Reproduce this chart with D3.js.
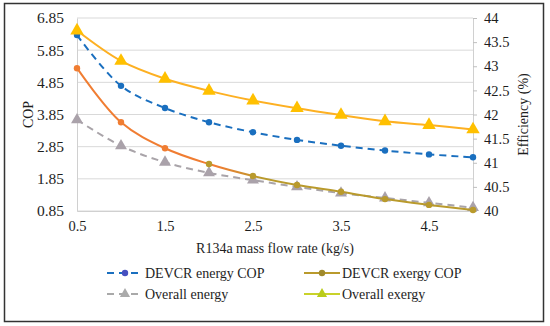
<!DOCTYPE html>
<html>
<head>
<meta charset="utf-8">
<script src="https://cdn.jsdelivr.net/npm/d3@7"></script>
<style>
  body { margin: 0; background: #fff; }
  svg text { font-family: "Liberation Serif", "Times New Roman", serif; fill: #1e1e1e; }
</style>
</head>
<body>
<div id="app"></div>
<script>
// mass flow rate (kg/s)
const flow = [0.5, 1, 1.5, 2, 2.5, 3, 3.5, 4, 4.5, 5]
// left axis: COP
const energyCop = [6.32, 4.74, 4.05, 3.61, 3.30, 3.06, 2.88, 2.73, 2.61, 2.52]
const exergyCop = [5.29, 3.61, 2.80, 2.31, 1.94, 1.66, 1.45, 1.22, 1.04, 0.88]
// right axis: efficiency (%)
const overallEnergy = [41.89, 41.35, 41.01, 40.79, 40.64, 40.50, 40.37, 40.27, 40.17, 40.07]
const overallExergy = [43.74, 43.11, 42.74, 42.49, 42.29, 42.13, 41.99, 41.86, 41.78, 41.69]

const xTicks = [0.5, 1.5, 2.5, 3.5, 4.5]
const copTicks = [0.85, 1.85, 2.85, 3.85, 4.85, 5.85, 6.85]
const effTicks = [40, 40.5, 41, 41.5, 42, 42.5, 43, 43.5, 44]

const W = 550, H = 326
const plotL = 77, plotR = 473, plotT = 18, plotB = 211

const svg = d3.select('#app').append('svg')
    .attr('width', W)
    .attr('height', H)

// outer frame
svg.append('rect')
    .attr('x', 4.5).attr('y', 3.5)
    .attr('width', 539).attr('height', 318)
    .attr('fill', '#fff')
    .attr('stroke', '#333')
    .attr('stroke-width', 1.5)

const x = d3.scaleLinear().domain([0.5, 5]).range([plotL, plotR])
const yL = d3.scaleLinear().domain([0.85, 6.85]).range([plotB, plotT])
const yR = d3.scaleLinear().domain([40, 44]).range([plotB, plotT])

// gridlines
svg.append('g')
    .selectAll('line')
    .data(copTicks)
    .enter()
    .append('line')
    .attr('x1', plotL).attr('x2', plotR)
    .attr('y1', d => yL(d)).attr('y2', d => yL(d))
    .attr('stroke', '#d9d9d9')
    .attr('stroke-width', 1)

// left axis
const yAxisL = d3.axisLeft(yL).tickValues(copTicks).tickSize(0).tickPadding(13).tickFormat(d3.format('.2f'))
const gL = svg.append('g').attr('transform', `translate(${plotL},0)`).call(yAxisL)
gL.select('.domain').attr('stroke', '#d0d0d0')
gL.selectAll('text').style('font-size', '15.5px')

// right axis
const yAxisR = d3.axisRight(yR).tickValues(effTicks).tickSize(4).tickPadding(7).tickFormat(d => d)
const gR = svg.append('g').attr('transform', `translate(${plotR},0)`).call(yAxisR)
gR.select('.domain').attr('stroke', '#d0d0d0')
gR.selectAll('line').attr('stroke', '#bfbfbf')
gR.selectAll('text').style('font-size', '14.5px')

// bottom axis
const xAxis = d3.axisBottom(x).tickValues(xTicks).tickSize(0).tickPadding(10).tickFormat(d => d)
const gX = svg.append('g').attr('transform', `translate(0,${plotB})`).call(xAxis)
gX.select('.domain').attr('stroke', '#d0d0d0')
gX.selectAll('text').style('font-size', '14.5px')

// axis titles
svg.append('text')
    .attr('x', 275).attr('y', 253)
    .attr('text-anchor', 'middle')
    .style('font-size', '14px')
    .text('R134a mass flow rate (kg/s)')

svg.append('text')
    .attr('transform', `translate(33,${(plotT + plotB) / 2}) rotate(-90)`)
    .attr('text-anchor', 'middle')
    .style('font-size', '14px')
    .text('COP')

svg.append('text')
    .attr('transform', `translate(528,${(plotT + plotB) / 2}) rotate(-90)`)
    .attr('text-anchor', 'middle')
    .style('font-size', '14px')
    .text('Efficiency (%)')

// exergy COP line fades from orange into olive
const grad = svg.append('defs').append('linearGradient')
    .attr('id', 'exGrad')
    .attr('gradientUnits', 'userSpaceOnUse')
    .attr('x1', x(0.5)).attr('x2', x(5)).attr('y1', 0).attr('y2', 0)
grad.append('stop').attr('offset', (x(2.1) - plotL) / (plotR - plotL)).attr('stop-color', '#f07d32')
grad.append('stop').attr('offset', (x(2.6) - plotL) / (plotR - plotL)).attr('stop-color', '#b99a2c')
grad.append('stop').attr('offset', 1).attr('stop-color', '#b99a2c')

const triangle = d3.symbol().type(d3.symbolTriangle)

const series = [
    { vals: overallEnergy, y: yR, line: '#a9a4a9', dash: '7,5', marker: 'tri', fill: '#aaa2aa', size: 62 },
    { vals: exergyCop, y: yL, line: 'url(#exGrad)', dash: null, marker: 'circle', fill: '#f07d32', size: 3.2 },
    { vals: energyCop, y: yL, line: '#1a6fbf', dash: '7,5', marker: 'circle', fill: '#1a6fbf', size: 3.2 },
    { vals: overallExergy, y: yR, line: '#fdb022', dash: null, marker: 'tri', fill: '#ffc000', size: 78 }
]

series.forEach(s => {
    const pts = flow.map((f, i) => [f, s.vals[i]])
    const line = d3.line()
        .x(d => x(d[0]))
        .y(d => s.y(d[1]))
        .curve(d3.curveCatmullRom.alpha(0.5))
    svg.append('path')
        .datum(pts)
        .attr('d', line)
        .attr('fill', 'none')
        .attr('stroke', s.line)
        .attr('stroke-width', 2)
        .attr('stroke-dasharray', s.dash)

    const g = svg.append('g')
    if (s.marker === 'circle') {
        g.selectAll('circle')
            .data(pts)
            .enter()
            .append('circle')
            .attr('cx', d => x(d[0]))
            .attr('cy', d => s.y(d[1]))
            .attr('r', s.size)
            .attr('fill', (d, i) => (s.vals === exergyCop && i > 2) ? '#b99a2c' : s.fill)
    } else {
        g.selectAll('path')
            .data(pts)
            .enter()
            .append('path')
            .attr('d', triangle.size(s.size))
            .attr('transform', d => `translate(${x(d[0])},${s.y(d[1])})`)
            .attr('fill', s.fill)
    }
})

// legend
const legendItems = [
    { label: 'DEVCR energy COP', line: '#1a6fbf', dash: '7,5', marker: 'circle', fill: '#4650c0', col: 0, row: 0 },
    { label: 'DEVCR exergy COP', line: '#b99a2c', dash: null, marker: 'circle', fill: '#a08a2c', col: 1, row: 0 },
    { label: 'Overall energy', line: '#a9a9a9', dash: '7,5', marker: 'tri', fill: '#aaaaaa', col: 0, row: 1 },
    { label: 'Overall exergy', line: '#c9d22a', dash: null, marker: 'tri', fill: '#b9cc1a', col: 1, row: 1 }
]
const colX = [107, 304]
const rowY = [273, 294]

const lg = svg.append('g')
legendItems.forEach(item => {
    const lx = colX[item.col], ly = rowY[item.row]
    lg.append('line')
        .attr('x1', lx).attr('x2', lx + 36)
        .attr('y1', ly).attr('y2', ly)
        .attr('stroke', item.line)
        .attr('stroke-width', 2)
        .attr('stroke-dasharray', item.dash)
    if (item.marker === 'circle') {
        lg.append('circle').attr('cx', lx + 18).attr('cy', ly).attr('r', 3.2).attr('fill', item.fill)
    } else {
        lg.append('path').attr('d', triangle.size(45)).attr('transform', `translate(${lx + 18},${ly})`).attr('fill', item.fill)
    }
    lg.append('text')
        .attr('x', lx + 38).attr('y', ly + 5)
        .style('font-size', '14px')
        .text(item.label)
})
</script>
</body>
</html>
